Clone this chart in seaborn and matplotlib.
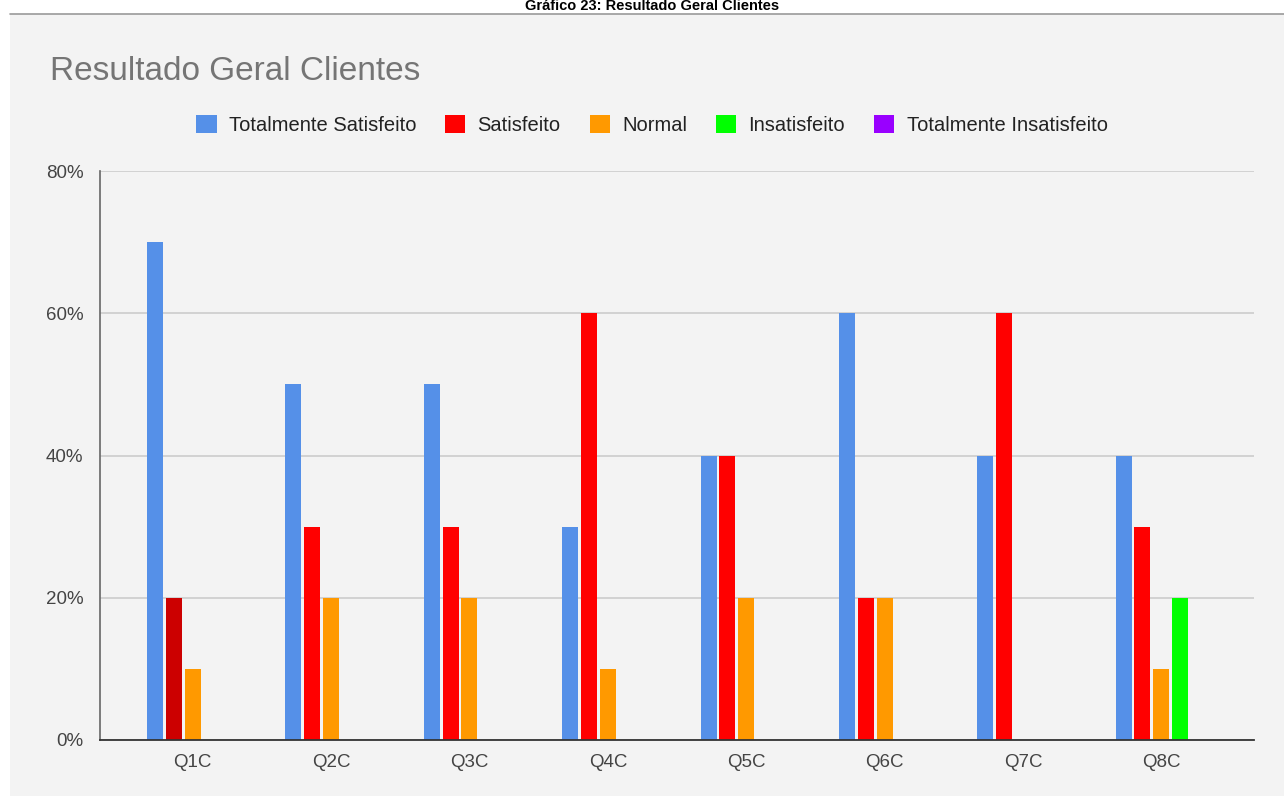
import matplotlib
matplotlib.use("Agg")
import matplotlib.pyplot as plt
import seaborn as sns
import pandas as pd
from matplotlib.ticker import FuncFormatter

questions = ["Q1C", "Q2C", "Q3C", "Q4C", "Q5C", "Q6C", "Q7C", "Q8C"]
levels = ["Totalmente Satisfeito", "Satisfeito", "Normal", "Insatisfeito", "Totalmente Insatisfeito"]
totalmente_satisfeito = [70, 50, 50, 30, 40, 60, 40, 40]
satisfeito = [20, 30, 30, 60, 40, 20, 60, 30]
normal = [10, 20, 20, 10, 20, 20, 0, 10]
insatisfeito = [0, 0, 0, 0, 0, 0, 0, 20]
totalmente_insatisfeito = [0, 0, 0, 0, 0, 0, 0, 0]
colors = ["#5590e8", "#ff0000", "#ff9900", "#00ff00", "#9900ff"]

series = [totalmente_satisfeito, satisfeito, normal, insatisfeito, totalmente_insatisfeito]
rows = []
for lvl, vals in zip(levels, series):
    for q, v in zip(questions, vals):
        rows.append({"Questão": q, "Nível": lvl, "Valor": v})
df = pd.DataFrame(rows)

sns.set_theme(style="white")
plt.rcParams["font.family"] = ["Liberation Sans", "DejaVu Sans"]

fig = plt.figure(figsize=(12.84, 7.96), dpi=100)
fig.patch.set_facecolor("white")

# grey panel behind the chart
W, H = 1284, 796
panel = plt.Rectangle((10 / W, 0), 1 - 10 / W, 1 - 14 / H, transform=fig.transFigure,
                      facecolor="#f3f3f3", edgecolor="none", zorder=-10)
fig.patches.append(panel)
fig.add_artist(plt.Line2D([10 / W, 1], [1 - 14 / H, 1 - 14 / H], transform=fig.transFigure,
                          color="#9a9a9a", lw=1.2))
fig.text(652 / W, 1 - 6 / H, "Gráfico 23: Resultado Geral Clientes", ha="center", va="center",
         fontsize=10.5, fontweight="bold", color="#000000")

ax = fig.add_axes([100 / W, 1 - 740 / H, 1154 / W, (740 - 171) / H])
ax.set_facecolor("#f3f3f3")

sns.barplot(data=df, x="Questão", y="Valor", hue="Nível", hue_order=levels, order=questions,
            palette=colors, width=0.68, gap=0.15, ax=ax, legend=False, saturation=1,
            linewidth=0, edgecolor="none")

# highlighted bar (Q1C, Satisfeito)
for p in ax.patches:
    xc = p.get_x() + p.get_width() / 2
    if -0.3 < xc < -0.05 and p.get_height() == 20:
        p.set_facecolor("#cc0000")

ax.set_xlim(-0.67, 7.67)
ax.set_ylim(0, 80)
ax.set_yticks([0, 20, 40, 60, 80])
ax.yaxis.set_major_formatter(FuncFormatter(lambda v, _: f"{int(v)}%"))
ax.grid(axis="y", color="#cccccc", lw=1.2)
ax.set_axisbelow(True)
for s in ["top", "right"]:
    ax.spines[s].set_visible(False)
ax.spines["left"].set_color("#666666")
ax.spines["left"].set_linewidth(1.2)
ax.spines["bottom"].set_color("#333333")
ax.spines["bottom"].set_linewidth(1.3)
ax.set_xlabel("")
ax.set_ylabel("")
ax.tick_params(axis="both", length=0, labelsize=13.5, colors="#444444", pad=10)
ax.tick_params(axis="y", pad=12)

fig.text(50 / W, 1 - 72 / H, "Resultado Geral Clientes", ha="left", va="center",
         fontsize=24, color="#757575")

handles = [plt.Rectangle((0, 0), 1, 1, facecolor=c, edgecolor="none") for c in colors]
fig.legend(handles, levels, loc="center", bbox_to_anchor=(652 / W, 1 - 125 / H), ncol=5,
           frameon=False, fontsize=14.5, handlelength=1.0, handleheight=1.0,
           handletextpad=0.6, columnspacing=1.45, labelcolor="#222222")

fig.savefig("out.png", dpi=100, facecolor=fig.get_facecolor())
